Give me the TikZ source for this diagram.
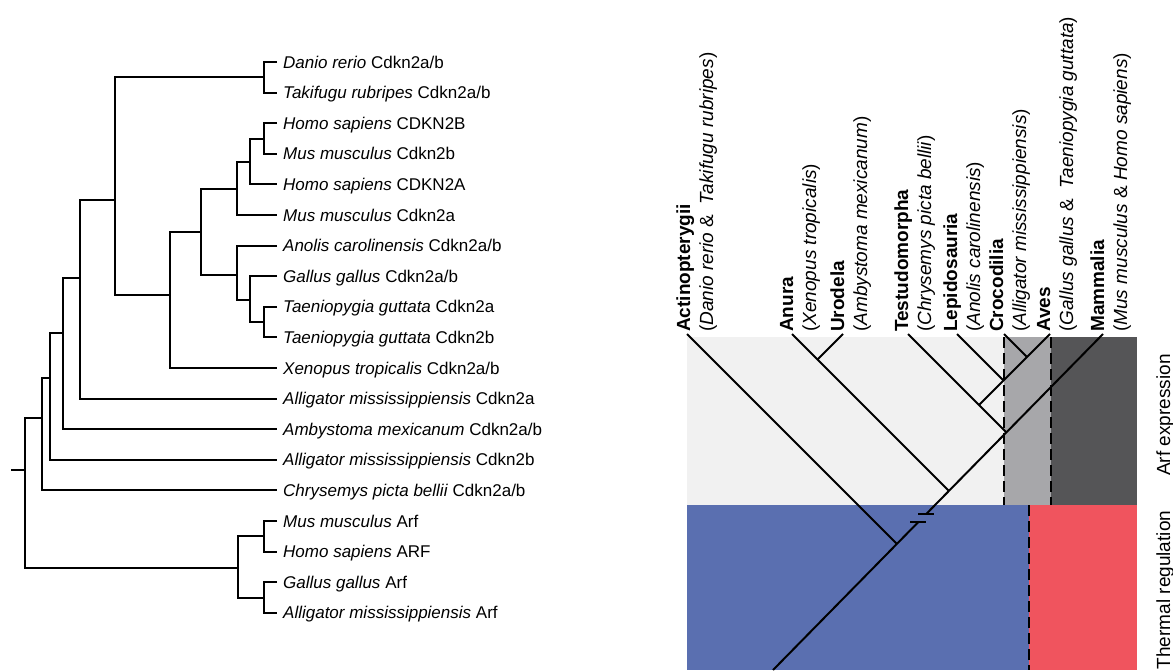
\documentclass[tikz,border=0pt]{standalone}
\usepackage{fontspec}
\setmainfont{Liberation Sans}
\usepackage{tikz}
\usetikzlibrary{calc}
\definecolor{ArfLight}{RGB}{241,241,241}
\definecolor{ArfMid}{RGB}{167,167,170}
\definecolor{ArfDark}{RGB}{85,85,87}
\definecolor{ThermBlue}{RGB}{90,111,176}
\definecolor{ThermRed}{RGB}{240,84,94}

\begin{document}
\begin{tikzpicture}[x=1pt,y=-1pt,
  branch/.style={line width=2pt},
  leaf/.style={anchor=west, inner xsep=6pt, inner ysep=0pt, text height=12pt, text depth=0pt,
    font=\fontsize{17}{20}\selectfont},
  clade/.style={rotate=90, anchor=base west, inner sep=0pt, font=\fontsize{19}{23}\selectfont},
  side/.style={rotate=90, anchor=base, inner sep=0pt, font=\fontsize{19}{23}\selectfont},
  border/.style={line width=1.6pt, dash pattern=on 11pt off 5pt}]
\useasboundingbox (0,0) rectangle (1173,670);

% gene tree
\node[leaf] (danio) at (277,62) {\textit{Danio rerio} Cdkn2a/b};
\node[leaf] (taki) at (277,92.6) {\textit{Takifugu rubripes} Cdkn2a/b};
\node[leaf] (h2b) at (277,123.2) {\textit{Homo sapiens} CDKN2B};
\node[leaf] (m2b) at (277,153.8) {\textit{Mus musculus} Cdkn2b};
\node[leaf] (h2a) at (277,184.4) {\textit{Homo sapiens} CDKN2A};
\node[leaf] (m2a) at (277,215) {\textit{Mus musculus} Cdkn2a};
\node[leaf] (ano) at (277,245.6) {\textit{Anolis carolinensis} Cdkn2a/b};
\node[leaf] (gal) at (277,276.2) {\textit{Gallus gallus} Cdkn2a/b};
\node[leaf] (t2a) at (277,306.8) {\textit{Taeniopygia guttata} Cdkn2a};
\node[leaf] (t2b) at (277,337.4) {\textit{Taeniopygia guttata} Cdkn2b};
\node[leaf] (xen) at (277,368) {\textit{Xenopus tropicalis} Cdkn2a/b};
\node[leaf] (allA) at (277,398.6) {\textit{Alligator mississippiensis} Cdkn2a};
\node[leaf] (amb) at (277,429.2) {\textit{Ambystoma mexicanum} Cdkn2a/b};
\node[leaf] (allB) at (277,459.8) {\textit{Alligator mississippiensis} Cdkn2b};
\node[leaf] (chr) at (277,490.4) {\textit{Chrysemys picta bellii} Cdkn2a/b};
\node[leaf] (musArf) at (277,521) {\textit{Mus musculus} Arf};
\node[leaf] (homArf) at (277,551.6) {\textit{Homo sapiens} ARF};
\node[leaf] (galArf) at (277,582.2) {\textit{Gallus gallus} Arf};
\node[leaf] (allArf) at (277,612.8) {\textit{Alligator mississippiensis} Arf};

\coordinate (dt) at (264,77.3);
\coordinate (hm) at (264,138.5);
\coordinate (hmh) at (250,162);
\coordinate (mam) at (237,189);
\coordinate (tae) at (264,322.1);
\coordinate (gt) at (250,300);
\coordinate (agt) at (237,275);
\coordinate (amn) at (201,232);
\coordinate (tet) at (170,295);
\coordinate (ost) at (115,200);
\coordinate (n5) at (80,278);
\coordinate (n6) at (63,333);
\coordinate (n7) at (50,378);
\coordinate (n8) at (42,418);
\coordinate (mh) at (264,536.3);
\coordinate (ga) at (264,597.5);
\coordinate (arf) at (238,568);
\coordinate (root) at (25,470);
\coordinate (stem) at (11,470);

\draw[branch] (danio.west) -| (dt) |- (taki.west);
\draw[branch] (h2b.west) -| (hm) |- (m2b.west);
\draw[branch] (hm) -| (hmh) |- (h2a.west);
\draw[branch] (hmh) -| (mam) |- (m2a.west);
\draw[branch] (t2a.west) -| (tae) |- (t2b.west);
\draw[branch] (gal.west) -| (gt) |- (tae);
\draw[branch] (ano.west) -| (agt) |- (gt);
\draw[branch] (mam) -| (amn) |- (agt);
\draw[branch] (amn) -| (tet) |- (xen.west);
\draw[branch] (dt) -| (ost) |- (tet);
\draw[branch] (ost) -| (n5) |- (allA.west);
\draw[branch] (n5) -| (n6) |- (amb.west);
\draw[branch] (n6) -| (n7) |- (allB.west);
\draw[branch] (n7) -| (n8) |- (chr.west);
\draw[branch] (musArf.west) -| (mh) |- (homArf.west);
\draw[branch] (galArf.west) -| (ga) |- (allArf.west);
\draw[branch] (mh) -| (arf) |- (ga);
\draw[branch] (n8) -| (root) |- (arf);
\draw[branch] (stem) -- (root);

% trait panels
\fill[ArfLight] (687,337) rectangle (1004,505);
\fill[ArfMid] (1004,337) rectangle (1051,505);
\fill[ArfDark] (1051,337) rectangle (1137,505);
\fill[ThermBlue] (687,505) rectangle (1029,670);
\fill[ThermRed] (1029,505) rectangle (1137,670);
\draw[border] (1004,337) -- (1004,505);
\draw[border] (1051,337) -- (1051,505);
\draw[border] (1029,505) -- (1029,670);

% species tree
\coordinate (actT) at (687,334);
\coordinate (anuT) at (792,334);
\coordinate (uroT) at (843,334);
\coordinate (tesT) at (908,334);
\coordinate (lepT) at (957,334);
\coordinate (croT) at (1004,334);
\coordinate (aveT) at (1050,334);
\coordinate (mamT) at (1103,334);
\coordinate (bbot) at (773,670);
\coordinate (actF) at (987,634);
\coordinate (anuF) at (1092,634);
\coordinate (uroF) at (543,634);
\coordinate (tesF) at (1208,634);
\coordinate (lepF) at (1257,634);
\coordinate (croF) at (1304,634);
\coordinate (aveF) at (750,634);

\coordinate (actJ) at (intersection of actT--actF and mamT--bbot);
\coordinate (anuJ) at (intersection of anuT--anuF and mamT--bbot);
\coordinate (uroJ) at (intersection of uroT--uroF and anuT--anuF);
\coordinate (tesJ) at (intersection of tesT--tesF and mamT--bbot);
\coordinate (arcJ) at (intersection of aveT--aveF and tesT--tesF);
\coordinate (lepJ) at (intersection of lepT--lepF and aveT--aveF);
\coordinate (croJ) at (intersection of croT--croF and aveT--aveF);
\coordinate (brkA) at ($(mamT)!0.5357!(bbot)$);
\coordinate (brkB) at ($(mamT)!0.5595!(bbot)$);

\draw[branch] (actT) -- (actJ);
\draw[branch] (anuT) -- (anuJ);
\draw[branch] (uroT) -- (uroJ);
\draw[branch] (tesT) -- (tesJ);
\draw[branch] (lepT) -- (lepJ);
\draw[branch] (croT) -- (croJ);
\draw[branch] (aveT) -- (arcJ);
\draw[branch] (mamT) -- (brkA);
\draw[branch] (brkB) -- (bbot);
\draw[branch] ([xshift=-8pt]brkA) -- ([xshift=8pt]brkA);
\draw[branch] ([xshift=-8pt]brkB) -- ([xshift=8pt]brkB);

\node[clade] (actN) at (690,332) {\textbf{Actinopterygii}};
\node[clade] (actS) at (713,332) {(\textit{Danio rerio} \&\ \ \textit{Takifugu rubripes})};
\node[clade] (anuN) at (793,332) {\textbf{Anura}};
\node[clade] (anuS) at (816,332) {(\textit{Xenopus tropicalis})};
\node[clade] (uroN) at (844,332) {\textbf{Urodela}};
\node[clade] (uroS) at (867,332) {(\textit{Ambystoma mexicanum})};
\node[clade] (tesN) at (908,332) {\textbf{Testudomorpha}};
\node[clade] (tesS) at (931,332) {(\textit{Chrysemys picta bellii})};
\node[clade] (lepN) at (957,332) {\textbf{Lepidosauria}};
\node[clade] (lepS) at (980,332) {(\textit{Anolis carolinensis})};
\node[clade] (croN) at (1003,332) {\textbf{Crocodilia}};
\node[clade] (croS) at (1026,332) {(\textit{Alligator mississippiensis})};
\node[clade] (aveN) at (1050,332) {\textbf{Aves}};
\node[clade] (aveS) at (1073,332) {(\textit{Gallus gallus} \&\ \ \textit{Taeniopygia guttata})};
\node[clade] (mamN) at (1104,332) {\textbf{Mammalia}};
\node[clade] (mamS) at (1127,332) {(\textit{Mus musculus} \& \textit{Homo sapiens})};

\node[side] (arfL) at (1170,415) {Arf expression};
\node[side] (thermL) at (1170,590) {Thermal regulation};
\end{tikzpicture}
\end{document}
